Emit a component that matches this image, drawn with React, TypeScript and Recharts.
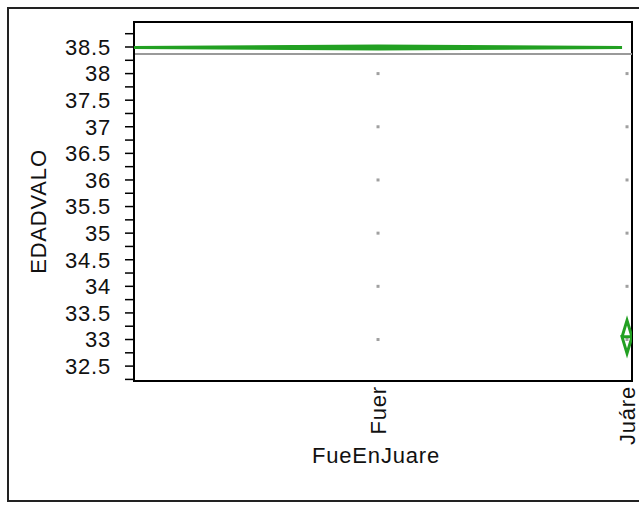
import { ComposedChart, Scatter, XAxis, YAxis, ReferenceLine, ReferenceArea } from 'recharts';

// groups and their sizes (JMP spreads the x axis by group count)
const groups = ['Fuer', 'Juáre'];
const groupCounts = [980, 20];
const groupMeans = [38.49, 33.05];
const groupCiHalf = [0.03, 0.31];
const grandMean = 38.37;

// observed EDADVALO values per group
const fuerValues = [38, 37, 36, 35, 34, 33];
const juareValues = [38, 37, 36, 35, 34, 33];

const yTicks = [
  32.25, 32.5, 32.75, 33, 33.25, 33.5, 33.75, 34, 34.25, 34.5, 34.75, 35, 35.25, 35.5,
  35.75, 36, 36.25, 36.5, 36.75, 37, 37.25, 37.5, 37.75, 38, 38.25, 38.5, 38.75,
];
const yDomain = [32.22, 38.97];

const FONT = '"Liberation Sans", Arial, sans-serif';
const FONT_SIZE = 22;
const SPACING = 0.8;
const GREEN = '#22a022';

let cursor = 0;
const spans = groups.map((name, i) => {
  const x0 = cursor;
  cursor += groupCounts[i];
  return { name, x0, x1: cursor, xc: (x0 + cursor) / 2 };
});
const total = cursor;

const valuesByGroup = [fuerValues, juareValues];
const points = spans.flatMap((s, i) => valuesByGroup[i].map((v) => ({ x: s.xc, y: v })));

// means diamonds: outline plus the mean line across
const diamonds = spans.map((s, i) => {
  const m = groupMeans[i];
  const h = groupCiHalf[i];
  return [
    { x: s.x0, y: m },
    { x: s.xc, y: m + h },
    { x: s.x1, y: m },
    { x: s.xc, y: m - h },
    { x: s.x0, y: m },
    { x: s.x1, y: m },
  ];
});

const GreyDot = (props: any) => {
  const { cx, cy } = props;
  return <rect x={cx - 1.5} y={cy - 1.5} width={3} height={3} fill="#a0a0a0" />;
};

const XTick = (props: any) => {
  const { x, y, payload } = props;
  const span = spans.find((s) => s.xc === payload.value);
  return (
    <g transform={`translate(${x},${y})`}>
      <text
        transform="rotate(-90)"
        x={3}
        dy="0.35em"
        textAnchor="end"
        fontFamily={FONT}
        fontSize={FONT_SIZE}
        letterSpacing={SPACING}
        fill="#111"
      >
        {span ? span.name : ''}
      </text>
    </g>
  );
};

export default function App() {
  return (
    <div style={{ position: 'absolute', left: 0, top: 0, width: 639, height: 505, overflow: 'hidden', background: '#fff' }}>
      <div
        style={{
          position: 'absolute',
          left: 7,
          top: 7,
          width: 660,
          height: 495,
          border: '2px solid #222',
          boxSizing: 'border-box',
        }}
      />
      <div style={{ position: 'absolute', left: 0, top: 0 }}>
        <ComposedChart width={639} height={505} margin={{ top: 22, right: 7, left: 24, bottom: 44 }}>
          <XAxis
            type="number"
            dataKey="x"
            domain={[0, total]}
            ticks={spans.map((s) => s.xc)}
            tick={<XTick />}
            tickLine={false}
            axisLine={{ stroke: '#000', strokeWidth: 2 }}
            height={80}
            allowDataOverflow
            label={{
              content: (p: any) => {
                const vb = p.viewBox;
                return (
                  <text
                    x={vb.x + vb.width / 2 - 7}
                    y={vb.y + 82}
                    textAnchor="middle"
                    fontFamily={FONT}
                    fontSize={FONT_SIZE}
                    letterSpacing={SPACING}
                    fill="#111"
                  >
                    FueEnJuare
                  </text>
                );
              },
            }}
          />
          <YAxis
            type="number"
            dataKey="y"
            domain={yDomain}
            ticks={yTicks}
            interval={0}
            allowDataOverflow
            width={110}
            tickSize={9}
            tickMargin={14}
            tickLine={{ stroke: '#000', strokeWidth: 1.5 }}
            axisLine={{ stroke: '#000', strokeWidth: 2 }}
            tick={{ fontFamily: FONT, fontSize: FONT_SIZE, fill: '#111', letterSpacing: SPACING }}
            tickFormatter={(v: number) => (Math.round(v * 4) % 2 === 0 ? String(v) : '')}
            label={{
              content: (p: any) => {
                const vb = p.viewBox;
                const cx = vb.x + 14;
                const cy = vb.y + vb.height / 2 + 10;
                return (
                  <text
                    x={cx}
                    y={cy}
                    transform={`rotate(-90, ${cx}, ${cy})`}
                    textAnchor="middle"
                    dominantBaseline="central"
                    fontFamily={FONT}
                    fontSize={FONT_SIZE}
                    letterSpacing={SPACING}
                    fill="#111"
                  >
                    EDADVALO
                  </text>
                );
              },
            }}
          />
          <ReferenceLine y={grandMean} stroke="#9a9a9a" strokeWidth={2} />
          <Scatter data={points} shape={<GreyDot />} isAnimationActive={false} />
          {diamonds.map((d, i) => (
            <Scatter
              key={groups[i]}
              data={d}
              line={{ stroke: GREEN, strokeWidth: 3 }}
              shape={() => <g />}
              isAnimationActive={false}
            />
          ))}
          <ReferenceArea
            x1={0}
            x2={total}
            y1={yDomain[0]}
            y2={yDomain[1]}
            fill="none"
            fillOpacity={0}
            stroke="#000"
            strokeWidth={2}
            ifOverflow="visible"
          />
        </ComposedChart>
      </div>
    </div>
  );
}
